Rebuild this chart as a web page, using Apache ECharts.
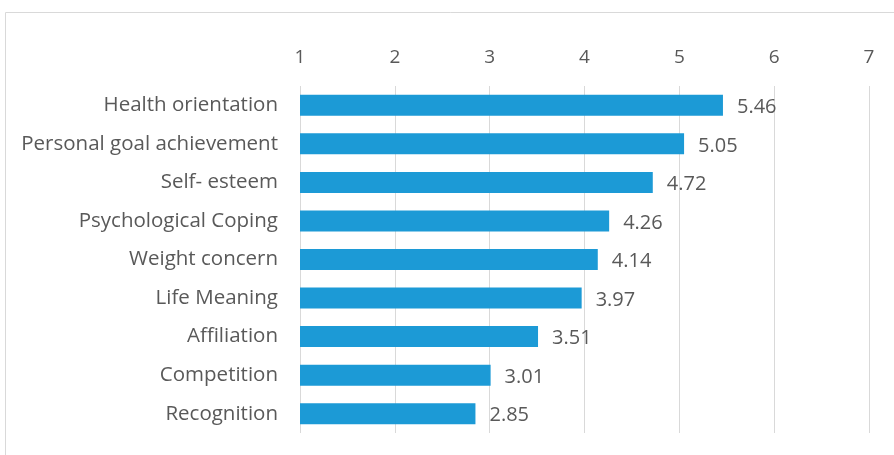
<!DOCTYPE html>
<html>
<head>
<meta charset="utf-8">
<script src="https://cdn.jsdelivr.net/npm/echarts@6/dist/echarts.min.js"></script>
<style>
  html, body { margin: 0; padding: 0; background: #fff; }
  #chart { width: 894px; height: 455px; }
</style>
</head>
<body>
<div id="chart"></div>
<script>
const categories = [
  'Health orientation',
  'Personal goal achievement',
  'Self- esteem',
  'Psychological Coping',
  'Weight concern',
  'Life Meaning',
  'Affiliation',
  'Competition',
  'Recognition'
]
const values = [5.46, 5.05, 4.72, 4.26, 4.14, 3.97, 3.51, 3.01, 2.85]

const chart = echarts.init(document.getElementById('chart'))

const option = {
  animation: false,
  textStyle: { fontFamily: 'Open Sans' },
  graphic: [
    {
      type: 'rect',
      shape: { x: 5.5, y: 12.5, width: 1000, height: 1000 },
      style: { fill: 'none', stroke: '#d9d9d9', lineWidth: 1 },
      silent: true
    }
  ],
  grid: {
    left: 300,
    right: 25,
    top: 86,
    bottom: 22
  },
  xAxis: {
    type: 'value',
    position: 'top',
    min: 1,
    max: 7,
    interval: 1,
    axisLine: { show: false },
    axisTick: { show: false },
    axisLabel: {
      fontSize: 19,
      color: '#595959',
      margin: 19
    },
    splitLine: {
      lineStyle: { color: '#d9d9d9', width: 1 }
    }
  },
  yAxis: {
    type: 'category',
    inverse: true,
    data: categories,
    axisLine: { show: false },
    axisTick: { show: false },
    axisLabel: {
      fontSize: 20.5,
      color: '#595959',
      margin: 22
    }
  },
  series: [
    {
      type: 'bar',
      data: values,
      barWidth: 21,
      itemStyle: { color: '#1c9ad6' },
      label: {
        show: true,
        position: 'right',
        distance: 14,
        offset: [0, 2],
        fontSize: 20,
        color: '#595959',
        formatter: p => p.value.toFixed(2)
      }
    }
  ]
}

chart.setOption(option)
</script>
</body>
</html>
